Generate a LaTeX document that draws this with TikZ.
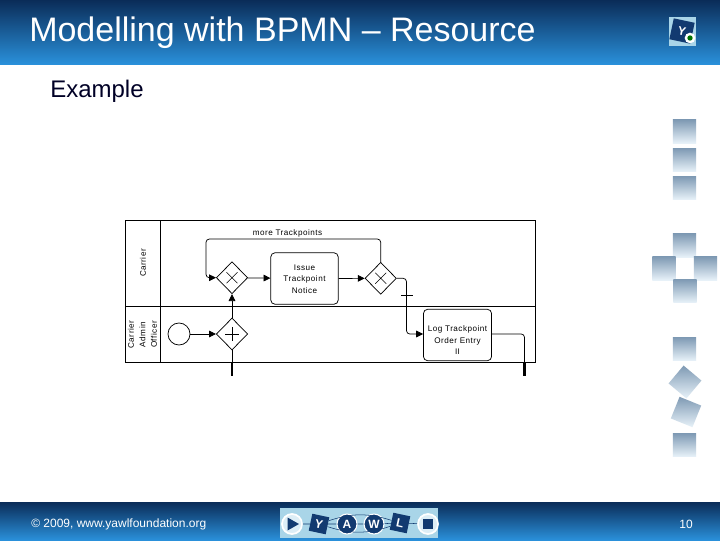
\documentclass[tikz,border=0pt]{standalone}
\usepackage{fontspec}
\setmainfont{Liberation Sans}
\newfontfamily\tinyfont[LetterSpace=6]{Liberation Sans}
\usetikzlibrary{arrows.meta,shapes.geometric}
\definecolor{barTop}{HTML}{0A2C58}
\definecolor{barBot}{HTML}{2A90DA}
\definecolor{sqTop}{HTML}{7F9AB4}
\definecolor{sqBot}{HTML}{E8F2F9}
\definecolor{navy}{HTML}{123A70}
\definecolor{logoBg}{HTML}{A9D5E8}
\tikzset{
  x=0.75pt,y=-0.75pt,
  px/.style={font=\fontsize{#1}{#1}\selectfont},
  lbl/.style={font=\tinyfont\fontsize{6.1}{8.6}\selectfont,align=center,inner sep=0pt,text=black},
  flow/.style={draw=black,line width=0.55pt,rounded corners=2.5pt,-{Triangle[length=5.2pt,width=5pt]}},
  plain/.style={draw=black,line width=0.55pt,rounded corners=2.5pt},
  thickend/.style={draw=black,line width=1.6pt},
  gate/.style={diamond,draw=black,line width=0.55pt,minimum width=23.5pt,minimum height=24pt,inner sep=0pt,fill=white},
  taskbox/.style={draw=black,line width=0.55pt,rounded corners=3pt,fill=white,inner sep=0pt},
  sq/.style={minimum width=17.5pt,minimum height=17.5pt,inner sep=0pt,top color=sqTop,bottom color=sqBot,shading angle=0},
  logoSq/.style={minimum width=13pt,minimum height=13pt,inner sep=0pt,fill=navy,text=white,font=\bfseries\fontsize{9}{9}\selectfont},
  logoCirc/.style={circle,minimum size=15pt,inner sep=0pt,fill=navy,draw=white,line width=0.8pt,text=white,font=\bfseries\fontsize{9}{9}\selectfont},
  logoEnd/.style={circle,minimum size=15pt,inner sep=0pt,fill=logoBg!40!white,draw=white,line width=1.3pt},
}
\begin{document}
\begin{tikzpicture}
\useasboundingbox (0,0) rectangle (720,540);
\fill[white] (0,0) rectangle (720,540);
% header and footer bars
\fill[top color=barTop,bottom color=barBot] (0,0) rectangle (720,64);
\fill[top color=barTop,bottom color=barBot] (0,502) rectangle (720,540);
\node[anchor=west,inner sep=0pt,text=white,px=25.5] (title) at (29,33) {Modelling with BPMN – Resource};
\node[anchor=west,inner sep=0pt,text=black!85!blue,px=18] (sub) at (50,91) {Example};
\node[anchor=west,inner sep=0pt,text=white,px=9] (copy) at (31,524) {© 2009, www.yawlfoundation.org};
\node[inner sep=0pt,text=white,px=9] (page) at (686,524) {10};
% top right logo
\fill[logoBg] (669,17) rectangle (696,46);
\node[logoSq,minimum width=16pt,minimum height=16pt,rotate=-12] (ylogo) at (682,31) {Y};
\node[circle,fill=white,minimum size=8pt,inner sep=0pt] (ydot) at (690,38) {};
\node[circle,fill=green!45!black,minimum size=4pt,inner sep=0pt] (ydotin) at (690,38) {};
% footer logo
\fill[logoBg] (280,508) rectangle (438,538);
\node[logoEnd] (lgS) at (292,524) {};
\fill[navy] (287.5,517.5) -- (299,524) -- (287.5,530.5) -- cycle;
\node[logoSq,rotate=-12] (lgY) at (319,524) {Y};
\node[logoCirc] (lgA) at (347,524) {A};
\node[logoCirc] (lgW) at (374,524) {W};
\node[logoSq,rotate=-12] (lgL) at (400,523) {L};
\node[logoEnd] (lgE) at (428,524) {};
\fill[navy] (423,519) rectangle (433,529);
\draw[navy,line width=0.4pt] (lgS) -- (lgY) (lgY) -- (lgA) (lgA) -- (lgW) (lgW) -- (lgL) (lgL) -- (lgE);
\draw[navy,line width=0.4pt] (lgY) to[bend left=18] (lgL);
\draw[navy,line width=0.4pt] (lgY) to[bend right=18] (lgL);
% decorative squares
\foreach \nm/\cx/\cy/\ang in {a/684.5/131.5/0,b/684.5/160/0,c/684.5/188/0,d/684.5/245.5/0,e/664/268.5/0,f/705.5/268.5/0,g/685/291/0,h/684.5/349/0,i/685/382/-40,j/686/412/-22,k/684.5/445/0}
  \node[sq,rotate=\ang] (sq\nm) at (\cx,\cy) {};
% pool
\draw[black,line width=0.55pt] (125.5,220.5) rectangle (535.5,362);
\draw[black,line width=0.55pt] (160.5,220.5) -- (160.5,362);
\draw[black,line width=0.55pt] (125.5,306) -- (535.5,306);
\node[lbl,rotate=90] (lane1) at (143,263) {Carrier};
\node[lbl,rotate=90,align=center] (lane2) at (142.5,334.5) {Carrier\\Admin\\Officer};
% nodes
\node[circle,draw=black,line width=0.55pt,minimum size=16.5pt,inner sep=0pt] (start) at (179,334) {};
\node[gate] (andg) at (232,334) {};
\node[gate] (xor1) at (232,277.7) {};
\node[gate] (xor2) at (380.7,278.3) {};
\draw[black,line width=0.4pt] (225,334) -- (239,334) (232,327) -- (232,341);
\draw[black,line width=0.4pt] (226.5,272.2) -- (237.5,283.2) (237.5,272.2) -- (226.5,283.2);
\draw[black,line width=0.4pt] (375.2,272.8) -- (386.2,283.8) (386.2,272.8) -- (375.2,283.8);
\node[taskbox,minimum width=50.5pt,minimum height=38.5pt] (task1) at (304.5,278.5) {};
\node[lbl] (task1t) at (304.5,279) {Issue\\Trackpoint\\Notice};
\node[taskbox,minimum width=51pt,minimum height=38.5pt] (task2) at (457.5,335) {};
\node[lbl] (task2t) at (457.5,340.5) {Log Trackpoint\\Order Entry\\II};
\node[lbl] (more) at (287.5,233.5) {more Trackpoints};
\coordinate (bot1) at (232,376);
\coordinate (bot2) at (524.5,376);
\coordinate (b1) at (232,362);
\coordinate (b2) at (524.5,362);
\coordinate (tickL) at (401,295.5);
\coordinate (tickR) at (413,295.5);
% connectors
\draw[flow] (start) -- (andg);
\draw[flow] (andg) -- (xor1);
\draw[black,line width=0.55pt] (andg) -- (b1);
\draw[thickend] (b1) -- (bot1);
\draw[flow] (xor1) -- (task1);
\draw[flow] (task1) -- (xor2);
\draw[flow] (xor2.north) -- (380.7,239) -- (206,239) -- (206,277.7) -- (xor1.west);
\draw[flow] (xor2.east) -- (406.5,278.3) -- (406.5,334) -- (task2.west |- 0,334);
\draw[black,line width=0.55pt] (tickL) -- (tickR);
\draw[plain] (task2.east |- 0,334) -- (524.5,334) -- (b2);
\draw[thickend] (b2) -- (bot2);
\end{tikzpicture}
\end{document}
